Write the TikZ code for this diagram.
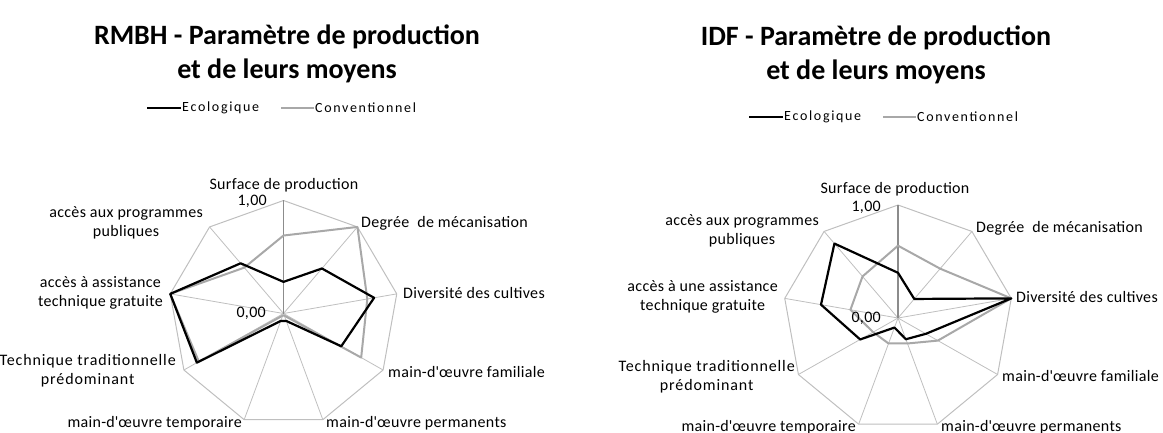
\documentclass[tikz,border=0pt]{standalone}
\usepackage{fontspec}
\setmainfont{Carlito}
\newfontfamily\lblfont[LetterSpace=2]{Carlito}
\newfontfamily\widelblfont[LetterSpace=5.5]{Carlito}
\newfontfamily\legfont[LetterSpace=12]{Carlito}
\definecolor{gridgray}{HTML}{BFBFBF}
\definecolor{axisgray}{HTML}{8C8C8C}
\definecolor{convgray}{HTML}{A8A8A8}
\begin{document}
\begin{tikzpicture}[x=1pt,y=-1pt,
  lbl/.style={font=\lblfont\fontsize{16}{19}\selectfont, inner sep=0pt, text=black, align=center},
  widelbl/.style={lbl, font=\widelblfont\fontsize{16}{19}\selectfont},
  ttl/.style={font=\bfseries\fontsize{28}{34}\selectfont, align=center, inner sep=0pt},
  leg/.style={font=\legfont\fontsize{14}{16}\selectfont, inner sep=0pt, anchor=west, text=black},
  spoke/.style={draw=gridgray, line width=0.8pt},
  mainspoke/.style={draw=axisgray, line width=1.3pt},
  rim/.style={draw=gridgray, line width=1pt, line join=round},
  eco/.style={draw=black, line width=2.2pt, line join=round},
  conv/.style={draw=convgray, line width=2pt, line join=round}]
\useasboundingbox (0,0) rectangle (1163,433);

% ---------------- Left chart (RMBH) ----------------
\begin{scope}[shift={(283.5,313.5)}, x=115pt, y=113pt]
  \coordinate (Lc) at (0,0);
  \foreach \i in {0,...,8} { \coordinate (Lv\i) at ({90-40*\i}:1); }
  \foreach \r [count=\i from 0] in {0.28,0.52,0.80,0.58,0.07,0.07,0.87,1.0,0.58}
    { \coordinate (Le\i) at ({90-40*\i}:\r); }
  \foreach \r [count=\i from 0] in {0.69,1.0,0.74,0.78,0.02,0.02,0.85,1.0,0.53}
    { \coordinate (Lg\i) at ({90-40*\i}:\r); }
\end{scope}
\draw[rim] (Lv0) -- (Lv1) -- (Lv2) -- (Lv3) -- (Lv4) -- (Lv5) -- (Lv6) -- (Lv7) -- (Lv8) -- cycle;
\foreach \i in {1,...,8} { \draw[spoke] (Lc) -- (Lv\i); }
\draw[mainspoke] (Lc) -- (Lv0);
\draw[conv] (Lg0) -- (Lg1) -- (Lg2) -- (Lg3) -- (Lg4) -- (Lg5) -- (Lg6) -- (Lg7) -- (Lg8) -- cycle;
\draw[eco] (Le0) -- (Le1) -- (Le2) -- (Le3) -- (Le4) -- (Le5) -- (Le6) -- (Le7) -- (Le8) -- cycle;

\node[ttl] (Ltitle) at (287,54) {RMBH - Paramètre de production\\et de leurs moyens};
\coordinate (Llb1) at (147,108); \coordinate (Llb2) at (181,108);
\draw[draw=black, line width=1.6pt] (Llb1) -- (Llb2);
\node[leg] (Lleco) at (182,108) {Ecologique};
\coordinate (Llg1) at (281,108); \coordinate (Llg2) at (314,108);
\draw[draw=convgray, line width=1.6pt] (Llg1) -- (Llg2);
\node[leg] (Llconv) at (315,108) {Conventionnel};

\node[lbl] (Ls0) at (284,185) {Surface de production};
\node[lbl, anchor=east] (Lmax) at (267,201) {1,00};
\node[lbl, anchor=east] (Lmin) at (266,313) {0,00};
\node[lbl, anchor=west] (Ls1) at (361,223) {Degrée~ de mécanisation};
\node[lbl, anchor=west] (Ls2) at (403,293) {Diversité des cultives};
\node[lbl, anchor=west] (Ls3) at (388,372) {main-d\textquotesingle œuvre familiale};
\node[lbl, anchor=west] (Ls4) at (326,423) {main-d\textquotesingle œuvre permanents};
\node[lbl, anchor=east] (Ls5) at (242,423) {main-d\textquotesingle œuvre temporaire};
\node[widelbl, anchor=east] (Ls6) at (176,371) {Technique traditionnelle\\prédominant};
\node[lbl, anchor=east] (Ls7) at (163,293) {accès à assistance\\technique gratuite};
\node[lbl, anchor=east] (Ls8) at (203,223) {accès aux programmes\\publiques};

% ---------------- Right chart (IDF) ----------------
\begin{scope}[shift={(898,318)}, x=115pt, y=113pt]
  \coordinate (Rc) at (0,0);
  \foreach \i in {0,...,8} { \coordinate (Rv\i) at ({90-40*\i}:1); }
  \foreach \r [count=\i from 0] in {0.40,0.22,1.0,0.28,0.20,0.09,0.38,0.68,0.86}
    { \coordinate (Re\i) at ({90-40*\i}:\r); }
  \foreach \r [count=\i from 0] in {0.64,0.57,1.0,0.40,0.24,0.24,0.25,0.42,0.48}
    { \coordinate (Rg\i) at ({90-40*\i}:\r); }
\end{scope}
\draw[rim] (Rv0) -- (Rv1) -- (Rv2) -- (Rv3) -- (Rv4) -- (Rv5) -- (Rv6) -- (Rv7) -- (Rv8) -- cycle;
\foreach \i in {1,...,8} { \draw[spoke] (Rc) -- (Rv\i); }
\draw[mainspoke] (Rc) -- (Rv0);
\draw[conv] (Rg0) -- (Rg1) -- (Rg2) -- (Rg3) -- (Rg4) -- (Rg5) -- (Rg6) -- (Rg7) -- (Rg8) -- cycle;
\draw[eco] (Re0) -- (Re1) -- (Re2) -- (Re3) -- (Re4) -- (Re5) -- (Re6) -- (Re7) -- (Re8) -- cycle;

\node[ttl] (Rtitle) at (876,55) {IDF - Paramètre de production\\et de leurs moyens};
\coordinate (Rlb1) at (749,117); \coordinate (Rlb2) at (783,117);
\draw[draw=black, line width=1.6pt] (Rlb1) -- (Rlb2);
\node[leg] (Rleco) at (784,117) {Ecologique};
\coordinate (Rlg1) at (883,117); \coordinate (Rlg2) at (916,117);
\draw[draw=convgray, line width=1.6pt] (Rlg1) -- (Rlg2);
\node[leg] (Rlconv) at (917,117) {Conventionnel};

\node[lbl] (Rs0) at (895,189) {Surface de production};
\node[lbl, anchor=east] (Rmax) at (881,207) {1,00};
\node[lbl, anchor=east] (Rmin) at (881,318) {0,00};
\node[lbl, anchor=west] (Rs1) at (976,228) {Degrée~ de mécanisation};
\node[lbl, anchor=west] (Rs2) at (1016,297) {Diversité des cultives};
\node[lbl, anchor=west] (Rs3) at (1002,376) {main-d\textquotesingle œuvre familiale};
\node[lbl, anchor=west] (Rs4) at (941,427) {main-d\textquotesingle œuvre permanents};
\node[lbl, anchor=east] (Rs5) at (856,427) {main-d\textquotesingle œuvre temporaire};
\node[widelbl, anchor=east] (Rs6) at (795,377) {Technique traditionnelle\\prédominant};
\node[lbl, anchor=east] (Rs7) at (778,297) {accès à une assistance\\technique gratuite};
\node[lbl, anchor=east] (Rs8) at (819,231) {accès aux programmes\\publiques};
\end{tikzpicture}
\end{document}
